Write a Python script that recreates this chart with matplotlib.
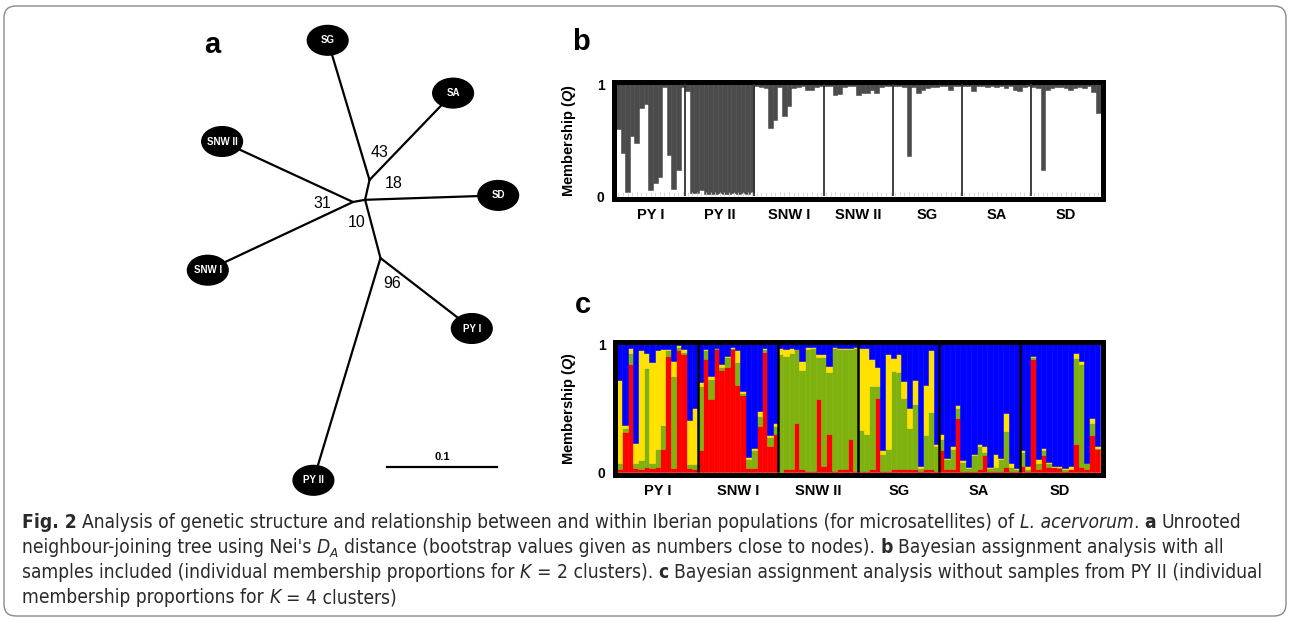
import numpy as np
import matplotlib
matplotlib.use('Agg')
import matplotlib.pyplot as plt
from matplotlib import font_manager
from matplotlib.patches import Ellipse, FancyBboxPatch

W, H = 1290, 620

# ---- panel a: unrooted NJ tree, coordinates in branch-length units
node_names = ['n1', 'n2', 'n3', 'n4']
node_x = [0.000, 0.011, 0.015, 0.025]
node_y = [0.000, 0.002, 0.020, -0.051]
leaves = ['SG', 'SA', 'SD', 'SNW II', 'SNW I', 'PY I', 'PY II']
leaf_x = [-0.023, 0.091, 0.132, -0.119, -0.132, 0.108, -0.036]
leaf_y = [0.147, 0.099, 0.006, 0.055, -0.062, -0.115, -0.253]
edges = [('n1', 'n2'), ('n2', 'n3'), ('n2', 'n4'), ('n3', 'SG'), ('n3', 'SA'),
         ('n2', 'SD'), ('n1', 'SNW II'), ('n1', 'SNW I'), ('n4', 'PY I'), ('n4', 'PY II')]
boot_vals = ['43', '18', '31', '10', '96']
boot_x = [0.024, 0.037, -0.028, 0.003, 0.036]
boot_y = [0.045, 0.017, -0.001, -0.019, -0.074]
scale_len = 0.1

# ---- panel b: K = 2, membership of cluster 1 (white) per individual
groups_b = ['PY I', 'PY II', 'SNW I', 'SNW II', 'SG', 'SA', 'SD']
q_b = [
    [0.60, 0.38, 0.04, 0.54, 0.47, 0.79, 0.82, 0.05, 0.12, 0.17, 0.97, 0.37, 0.06, 0.23, 0.97],
    [0.94, 0.03, 0.03, 0.05, 0.02, 0.02, 0.02, 0.03, 0.02, 0.02, 0.03, 0.02, 0.03, 0.02, 0.04],
    [0.98, 0.97, 0.96, 0.61, 0.68, 0.97, 0.71, 0.80, 0.96, 0.97, 0.98, 0.95, 0.95, 0.97, 0.98],
    [0.98, 0.98, 0.90, 0.91, 0.97, 0.98, 0.98, 0.90, 0.92, 0.92, 0.95, 0.92, 0.97, 0.98, 0.98],
    [0.98, 0.98, 0.97, 0.36, 0.97, 0.92, 0.95, 0.96, 0.97, 0.97, 0.98, 0.98, 0.95, 0.98, 0.98],
    [0.98, 0.98, 0.94, 0.98, 0.98, 0.97, 0.98, 0.97, 0.98, 0.96, 0.98, 0.95, 0.94, 0.97, 0.98],
    [0.97, 0.96, 0.23, 0.95, 0.96, 0.97, 0.97, 0.96, 0.95, 0.96, 0.97, 0.96, 0.98, 0.93, 0.74],
]

# ---- panel c: K = 4, (red, green, yellow) membership per individual, blue = rest
groups_c = ['PY I', 'SNW I', 'SNW II', 'SG', 'SA', 'SD']
q_c = [
    [[.02, .05, .65], [.31, .03, .03], [.84, .09, .04], [.03, .04, .16], [.02, .07, .86],
     [.04, .77, .12], [.03, .04, .79], [.04, .14, .77], [.18, .19, .59], [.91, .04, .01],
     [.03, .72, .12], [.95, .03, .01], [.92, .02, .02], [.03, .03, .35], [.02, .04, .44]],
    [[.17, .50, .03], [.88, .07, .01], [.57, .16, .02], [.96, .01, .00], [.80, .02, .02],
     [.82, .08, .01], [.96, .01, .01], [.68, .18, .09], [.60, .02, .01], [.03, .07, .02],
     [.03, .14, .02], [.36, .08, .04], [.94, .02, .01], [.20, .07, .02], [.30, .06, .02]],
    [[.00, .92, .05], [.02, .89, .05], [.02, .91, .04], [.38, .58, .00], [.02, .78, .07],
     [.01, .95, .02], [.01, .96, .01], [.57, .33, .02], [.05, .85, .02], [.30, .48, .05],
     [.01, .96, .01], [.02, .94, .01], [.02, .94, .01], [.26, .70, .01], [.01, .96, .01]],
    [[.01, .32, .64], [.01, .29, .67], [.02, .65, .21], [.58, .09, .15], [.01, .13, .03],
     [.01, .17, .74], [.02, .77, .10], [.02, .76, .14], [.02, .56, .13], [.02, .32, .16],
     [.02, .51, .19], [.01, .02, .02], [.02, .27, .39], [.02, .45, .48], [.01, .19, .02]],
    [[.17, .09, .04], [.02, .08, .01], [.02, .16, .02], [.42, .08, .02], [.01, .07, .01],
     [.01, .02, .01], [.01, .12, .01], [.02, .18, .02], [.13, .03, .04], [.01, .02, .01],
     [.01, .03, .10], [.01, .09, .01], [.04, .28, .14], [.01, .03, .03], [.01, .01, .01]],
    [[.05, .11, .01], [.01, .01, .03], [.88, .02, .01], [.02, .05, .03], [.13, .04, .02],
     [.04, .03, .01], [.04, .00, .01], [.03, .01, .01], [.01, .01, .01], [.02, .00, .03],
     [.22, .67, .04], [.04, .80, .03], [.02, .05, .00], [.29, .09, .04], [.18, .01, .01]],
]
colors_c = ['#ff0000', '#80b20f', '#ffe200', '#0000ff']

# caption lines as (text, style) pieces: r regular, b bold, i italic, s subscript
caption = [
    [('Fig. 2', 'b'), (' Analysis of genetic structure and relationship between and within Iberian '
                       'populations (for microsatellites) of ', 'r'), ('L. acervorum', 'i'),
     ('. ', 'r'), ('a', 'b'), (' Unrooted', 'r')],
    [("neighbour-joining tree using Nei's ", 'r'), ('D', 'i'), ('A', 's'),
     (' distance (bootstrap values given as numbers close to nodes). ', 'r'), ('b', 'b'),
     (' Bayesian assignment analysis with all', 'r')],
    [('samples included (individual membership proportions for ', 'r'), ('K', 'i'),
     (' = 2 clusters). ', 'r'), ('c', 'b'),
     (' Bayesian assignment analysis without samples from PY II (individual', 'r')],
    [('membership proportions for ', 'r'), ('K', 'i'), (' = 4 clusters)', 'r')],
]

ttf = font_manager.fontManager.ttflist
cond = any(f.name == 'DejaVu Sans' and f.stretch == 'condensed' for f in ttf)
cap_stretch = 'condensed' if cond else 'normal'

plt.rcParams['font.family'] = ['Liberation Sans', 'DejaVu Sans']
plt.rcParams['mathtext.fontset'] = 'custom'
has_bfit = 'mathtext.bfit' in plt.rcParams
if has_bfit:
    plt.rcParams['mathtext.bfit'] = 'Liberation Sans:italic:bold'

fig = plt.figure(figsize=(W / 100, H / 100), dpi=100)
renderer = fig.canvas.get_renderer()


def px_axes(x0, y0, x1, y1):
    return fig.add_axes([x0 / W, 1 - y1 / H, (x1 - x0) / W, (y1 - y0) / H])


# outer rounded frame
fig.patches.append(FancyBboxPatch((0.04, 0.04), 12.82, 6.10,
                                  boxstyle='round,pad=0,rounding_size=0.12',
                                  transform=fig.dpi_scale_trans, fill=False,
                                  edgecolor='#8a8a8a', lw=1.0))

# ---------------- panel a
ax = px_axes(170, 10, 540, 505)
ax.set_xlim((170 - 353) / 1100, (540 - 353) / 1100)
ax.set_ylim((202 - 505) / 1100, (202 - 10) / 1100)
ax.axis('off')
pos = {n: (x, y) for n, x, y in zip(node_names, node_x, node_y)}
pos.update({n: (x, y) for n, x, y in zip(leaves, leaf_x, leaf_y)})
for a, b in edges:
    ax.plot([pos[a][0], pos[b][0]], [pos[a][1], pos[b][1]], color='black', lw=1.6,
            solid_capstyle='round', zorder=1)
for n, x, y in zip(leaves, leaf_x, leaf_y):
    ax.add_patch(Ellipse((x, y), 0.037, 0.027, color='black', zorder=2))
    ax.text(x, y, n, color='white', fontsize=7, fontweight='bold', ha='center',
            va='center', zorder=3)
for t, x, y in zip(boot_vals, boot_x, boot_y):
    ax.text(x, y, t, fontsize=11.5, ha='center', va='center')
sb_x0, sb_y = 0.031, -0.241
ax.plot([sb_x0, sb_x0 + scale_len], [sb_y, sb_y], color='black', lw=1.6)
ax.text(sb_x0 + scale_len / 2, sb_y + 0.005, str(scale_len), fontsize=8,
        fontweight='bold', ha='center', va='bottom')
fig.text(212 / W, 1 - 45 / H, 'a', fontsize=21, fontweight='bold', ha='center', va='center')

ylab = r'Membership ($\mathbfit{Q}$)' if has_bfit else 'Membership (Q)'


def style_structure(ax, groups, per, lw_div, div_color):
    for s in ax.spines.values():
        s.set_linewidth(3.6)
        s.set_color('black')
    sizes = np.array([len(g) for g in per])
    bounds = np.cumsum(sizes)[:-1] - 0.5
    ax.vlines(bounds, 0, 1, color=div_color, lw=lw_div, zorder=4)
    centers = np.cumsum(sizes) - sizes / 2 - 0.5
    ax.set_xticks(centers)
    ax.set_xticklabels(groups, fontsize=10.5, fontweight='bold')
    ax.set_yticks([0, 1])
    ax.set_yticklabels(['0', '1'], fontsize=10, fontweight='bold')
    ax.tick_params(length=0)
    ax.tick_params(axis='x', pad=7)
    ax.tick_params(axis='y', pad=6.5)
    ax.set_ylabel(ylab, fontsize=10.5, fontweight='bold')


# ---------------- panel b
axb = px_axes(613.5, 82, 1103, 198.5)
qb = np.concatenate(q_b)
xb = np.arange(len(qb))
axb.bar(xb, qb, width=1.0, color='white', edgecolor='white', lw=0.4)
axb.bar(xb, 1 - qb, bottom=qb, width=1.0, color='#4b4b4b', edgecolor='#4b4b4b', lw=0.4)
axb.vlines(xb, 0, 0.035, color='#d2d2d2', lw=0.6, zorder=3)
pad = 2.5 / (485 / len(qb))
axb.set_xlim(-0.5 - pad, len(qb) - 0.5 + pad)
axb.set_ylim(-2.5 / 112, 1 + 2 / 112)
style_structure(axb, groups_b, q_b, 1.3, '#333333')
axb.yaxis.set_label_coords((578 - 613.5) / 489.5, 0.5)
fig.text(581 / W, 1 - 42 / H, 'b', fontsize=21, fontweight='bold', ha='center', va='center')

# ---------------- panel c
axc = px_axes(614.5, 342, 1102.5, 474.5)
qc = np.concatenate([np.array(g) for g in q_c])
xc = np.arange(len(qc))
bottom = np.zeros(len(qc))
for k in range(3):
    axc.bar(xc, qc[:, k], bottom=bottom, width=1.0, color=colors_c[k],
            edgecolor=colors_c[k], lw=0.4)
    bottom = bottom + qc[:, k]
axc.bar(xc, 1 - bottom, bottom=bottom, width=1.0, color=colors_c[3],
        edgecolor=colors_c[3], lw=0.4)
pad = 2.5 / (483 / len(qc))
axc.set_xlim(-0.5 - pad, len(qc) - 0.5 + pad)
axc.set_ylim(-2.5 / 128, 1 + 2 / 128)
style_structure(axc, groups_c, q_c, 1.8, 'black')
axc.yaxis.set_label_coords((578 - 614.5) / 488, 0.5)
fig.text(583 / W, 1 - 305 / H, 'c', fontsize=21, fontweight='bold', ha='center', va='center')


# ---------------- caption, drawn piece by piece
def cap_props(style, size):
    p = dict(family='DejaVu Sans', fontstretch=cap_stretch, color='#2a2a2a',
             fontsize=size, ha='left', va='baseline')
    if style == 'b':
        p['fontweight'] = 'bold'
    if style in ('i', 's'):
        p['fontstyle'] = 'italic'
    if style == 's':
        p['fontsize'] = size * 0.7
    return p


def text_w(s, props):
    t = fig.text(0, 0, s, **props)
    w = t.get_window_extent(renderer).width
    t.remove()
    return w


def draw_line(pieces, x0, base, size, keep=True):
    x = x0
    for s, style in pieces:
        props = cap_props(style, size)
        sp = text_w('x x', props) - text_w('xx', props)
        lead = len(s) - len(s.lstrip(' '))
        trail = len(s) - len(s.rstrip(' '))
        x += lead * sp
        core = s.strip(' ')
        yb = base + (4 if style == 's' else 0)
        t = fig.text(x / W, 1 - yb / H, core, **props)
        x += t.get_window_extent(renderer).width
        if not keep:
            t.remove()
        x += trail * sp
    return x - x0


trial = 12.0
cap_size = trial * 1221 / draw_line(caption[0], 22, 528, trial, keep=False)
for i, line in enumerate(caption):
    draw_line(line, 22, 528 + 25 * i, cap_size)

fig.savefig('out.png', dpi=100)
